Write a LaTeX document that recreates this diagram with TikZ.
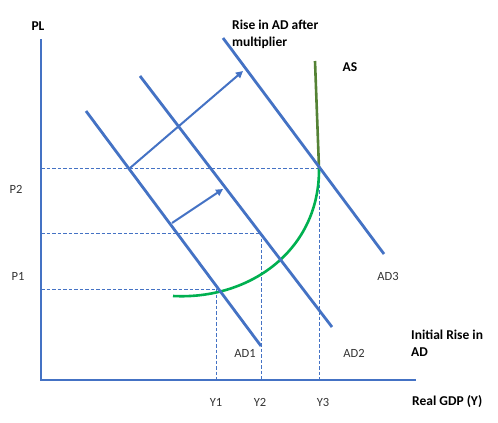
\documentclass[tikz,border=0pt]{standalone}
\usepackage{fontspec}
\setmainfont{Carlito}
\usetikzlibrary{arrows.meta}
\definecolor{adblue}{HTML}{4472C4}
\definecolor{asgreen}{HTML}{548235}
\definecolor{brgreen}{HTML}{00B050}
\begin{document}
\begin{tikzpicture}[x=1pt,y=-1pt,
  axis/.style={adblue,line width=2.6pt},
  adline/.style={adblue,line width=2.8pt},
  guide/.style={adblue,line width=0.6pt,dash pattern=on 3.5pt off 2pt},
  shiftarrow/.style={adblue,line width=2pt,-{Triangle[width=7pt,length=7pt]}},
  lbl/.style={font=\fontsize{12.5}{15}\selectfont,text=black!80,inner sep=0pt},
  blbl/.style={inner sep=0pt,text=black,font=\fontsize{13.5}{17}\selectfont\bfseries,align=left}]
\useasboundingbox (0,0) rectangle (498,423);
% coordinates
\coordinate (O) at (41,380);
\coordinate (Ytop) at (41,39);
\coordinate (Xend) at (416,380);
\coordinate (ad1a) at (86,111);
\coordinate (ad1b) at (261,346);
\coordinate (ad2a) at (140,76);
\coordinate (ad2b) at (332,327);
\coordinate (ad3a) at (223,38);
\coordinate (ad3b) at (384,254);
\coordinate (ast) at (315,61);
\coordinate (E3) at (319,168);
\coordinate (E2) at (261,233);
\coordinate (E1) at (216,289);
\coordinate (cs) at (173,296);
\coordinate (p2) at (41,168);
\coordinate (p22) at (41,233);
\coordinate (p1) at (41,289);
\coordinate (y1) at (216,380);
\coordinate (y2) at (261,380);
\coordinate (y3) at (319,380);
\coordinate (a1s) at (130,168);
\coordinate (a1e) at (243,71);
\coordinate (a2s) at (172,223);
\coordinate (a2e) at (223,189);
% guides
\draw[guide] (p2) -- (E3);
\draw[guide] (p22) -- (E2);
\draw[guide] (p1) -- (E1);
\draw[guide] (E1) -- (y1);
\draw[guide] (E2) -- (y2);
\draw[guide] (E3) -- (y3);
% AS
\draw[brgreen,line width=2.6pt] (cs) .. controls (250,300) and (320,250) .. (E3);
\draw[asgreen,line width=2.6pt] (ast) -- (E3);
% AD lines
\draw[adline] (ad1a) -- (ad1b);
\draw[adline] (ad2a) -- (ad2b);
\draw[adline] (ad3a) -- (ad3b);
% arrows
\draw[shiftarrow] (a1s) -- (a1e);
\draw[shiftarrow] (a2s) -- (a2e);
% axes
\draw[axis] (Ytop) -- (O) -- (Xend);
% labels
\node[blbl] (PL) at (38,26) {PL};
\node[lbl] (P2) at (16,189) {P2};
\node[lbl] (P1) at (18,276) {P1};
\node[lbl] (Y1) at (216,402) {Y1};
\node[lbl] (Y2) at (260,402) {Y2};
\node[lbl] (Y3) at (323,402) {Y3};
\node[lbl] (AD1) at (245,353) {AD1};
\node[lbl] (AD2) at (354,353) {AD2};
\node[lbl] (AD3) at (388,276) {AD3};
\node[blbl,anchor=west] (GDP) at (412,402) {Real GDP (Y)};
\node[blbl,anchor=north west] (IR) at (411,330) {Initial Rise in\\AD};
\node[blbl,anchor=north west] (RM) at (232,20) {Rise in AD after\\multiplier};
\node[blbl] (AS) at (350,67) {AS};
\end{tikzpicture}
\end{document}
